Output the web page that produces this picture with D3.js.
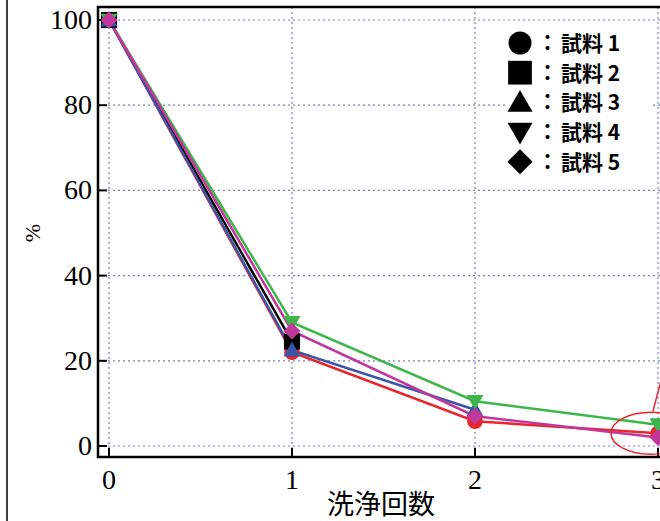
<!DOCTYPE html>
<html lang="ja">
<head>
<meta charset="UTF-8">
<title>洗浄回数</title>
<script src="https://d3js.org/d3.v7.min.js"></script>
<style>
  body { margin: 0; background: #fff; }
  svg { display: block; }
  .tick-label { font-family: "Liberation Serif", "DejaVu Serif", serif; font-size: 28px; fill: #000; }
  .legend-text { font-family: "Noto Sans CJK JP", sans-serif; font-weight: bold; font-size: 21px; fill: #000; }
</style>
</head>
<body>
<svg id="chart"></svg>
<script>
  // data
  const washes = [0, 1, 2, 3];
  const sample1 = [100, 22, 5.8, 3];
  const sample2 = [100, 24.5, null, null];
  const sample3 = [100, 22.5, 8.5, null];
  const sample4 = [100, 29, 10.5, 5];
  const sample5 = [100, 27, 7, 2];
  const yTicks = [0, 20, 40, 60, 80, 100];
  const legendLabels = ["試料 1", "試料 2", "試料 3", "試料 4", "試料 5"];

  const series = [
    { name: legendLabels[0], values: sample1, color: "#e8262c", shape: "circle" },
    { name: legendLabels[1], values: sample2, color: "#000000", shape: "square" },
    { name: legendLabels[2], values: sample3, color: "#3b55a6", shape: "triUp" },
    { name: legendLabels[3], values: sample4, color: "#3db64b", shape: "triDown" },
    { name: legendLabels[4], values: sample5, color: "#c2379b", shape: "diamond" }
  ];

  const width = 660, height = 521;
  const svg = d3.select("#chart").attr("width", width).attr("height", height);

  const x = d3.scaleLinear().domain([0, 3]).range([109, 658]);
  const y = d3.scaleLinear().domain([0, 100]).range([446, 20]);
  const axisLeftX = 98, axisBottomY = 457, frameTop = 7;

  function shapePath(kind, s) {
    if (kind === "circle") {
      const r = s * 0.92;
      return `M${-r},0A${r},${r} 0 1,0 ${r},0A${r},${r} 0 1,0 ${-r},0Z`;
    }
    if (kind === "square") {
      const h = s * 0.95;
      return `M${-h},${-h}H${h}V${h}H${-h}Z`;
    }
    if (kind === "triUp") {
      return `M0,${-s * 1.0}L${s},${s * 0.75}L${-s},${s * 0.75}Z`;
    }
    if (kind === "triDown") {
      return `M0,${s * 1.0}L${s},${-s * 0.75}L${-s},${-s * 0.75}Z`;
    }
    return `M0,${-s}L${s},0L0,${s}L${-s},0Z`;
  }

  // outer left border of the figure
  svg.append("line")
    .attr("x1", 7).attr("x2", 7).attr("y1", 0).attr("y2", height)
    .attr("stroke", "#000").attr("stroke-width", 1.5);

  // grid
  const grid = svg.append("g")
    .attr("stroke", "#7b7fc4").attr("stroke-width", 1.2)
    .attr("stroke-dasharray", "2,3");
  grid.selectAll(".gy").data(yTicks).enter().append("line")
    .attr("x1", axisLeftX).attr("x2", width)
    .attr("y1", d => y(d)).attr("y2", d => y(d));
  grid.selectAll(".gx").data(washes).enter().append("line")
    .attr("x1", d => x(d)).attr("x2", d => x(d))
    .attr("y1", frameTop).attr("y2", axisBottomY);

  // frame
  svg.append("path")
    .attr("d", `M${width + 2},${frameTop}H${axisLeftX}V${axisBottomY}H${width + 2}`)
    .attr("fill", "none").attr("stroke", "#000").attr("stroke-width", 2.5);

  // ticks
  svg.selectAll(".yt").data(yTicks).enter().append("line")
    .attr("x1", axisLeftX).attr("x2", axisLeftX + 9)
    .attr("y1", d => y(d)).attr("y2", d => y(d))
    .attr("stroke", "#000").attr("stroke-width", 2);
  svg.selectAll(".xt").data(washes).enter().append("line")
    .attr("x1", d => x(d)).attr("x2", d => x(d))
    .attr("y1", axisBottomY).attr("y2", axisBottomY - 9)
    .attr("stroke", "#000").attr("stroke-width", 2);

  svg.selectAll(".yl").data(yTicks).enter().append("text")
    .attr("class", "tick-label")
    .attr("x", 92).attr("y", d => y(d) + 9)
    .attr("text-anchor", "end")
    .text(d => d);
  svg.selectAll(".xl").data(washes).enter().append("text")
    .attr("class", "tick-label")
    .attr("x", d => x(d)).attr("y", 489)
    .attr("text-anchor", "middle")
    .text(d => d);

  // axis titles
  svg.append("text")
    .attr("x", 381).attr("y", 514)
    .attr("text-anchor", "middle")
    .style("font-family", "'Noto Sans CJK JP', sans-serif")
    .style("font-size", "27px")
    .text("洗浄回数");
  svg.append("text")
    .attr("transform", "translate(40,233) rotate(-90)")
    .attr("text-anchor", "middle")
    .style("font-family", "'Liberation Serif', serif")
    .style("font-size", "22px")
    .text("%");

  // lines
  const line = d3.line()
    .defined(d => d.v !== null)
    .x(d => x(d.w)).y(d => y(d.v));

  const plot = svg.append("g");
  series.forEach(s => {
    const pts = washes.map((w, i) => ({ w, v: s.values[i] }));
    plot.append("path")
      .datum(pts)
      .attr("d", line)
      .attr("fill", "none")
      .attr("stroke", s.color)
      .attr("stroke-width", 2.5);
  });
  series.forEach(s => {
    const pts = washes.map((w, i) => ({ w, v: s.values[i] })).filter(d => d.v !== null);
    plot.selectAll(null).data(pts).enter().append("path")
      .attr("transform", d => `translate(${x(d.w)},${y(d.v)})`)
      .attr("d", shapePath(s.shape, 8.5))
      .attr("fill", s.color);
  });

  // annotation ellipse around the last wash
  svg.append("ellipse")
    .attr("cx", x(3) - 7).attr("cy", y(3))
    .attr("rx", 40).attr("ry", 21)
    .attr("fill", "none").attr("stroke", "#e8262c").attr("stroke-width", 1.5);
  svg.append("line")
    .attr("x1", x(3) - 5).attr("y1", y(3) - 22)
    .attr("x2", x(3) + 8).attr("y2", y(3) - 72)
    .attr("stroke", "#e8262c").attr("stroke-width", 1.5);

  // legend
  const legend = svg.append("g");
  legend.append("rect")
    .attr("x", 508).attr("y", 27).attr("width", 142).attr("height", 150)
    .attr("fill", "#fff");
  const rowY = i => 43 + i * 29.7;
  series.forEach((s, i) => {
    legend.append("path")
      .attr("transform", `translate(520,${rowY(i)})`)
      .attr("d", shapePath(s.shape, 12.5))
      .attr("fill", "#000");
    legend.append("text")
      .attr("class", "legend-text")
      .attr("x", 537).attr("y", rowY(i) + 7)
      .text("：");
    legend.append("text")
      .attr("class", "legend-text")
      .attr("x", 561).attr("y", rowY(i) + 8)
      .text(s.name);
  });
</script>
</body>
</html>
